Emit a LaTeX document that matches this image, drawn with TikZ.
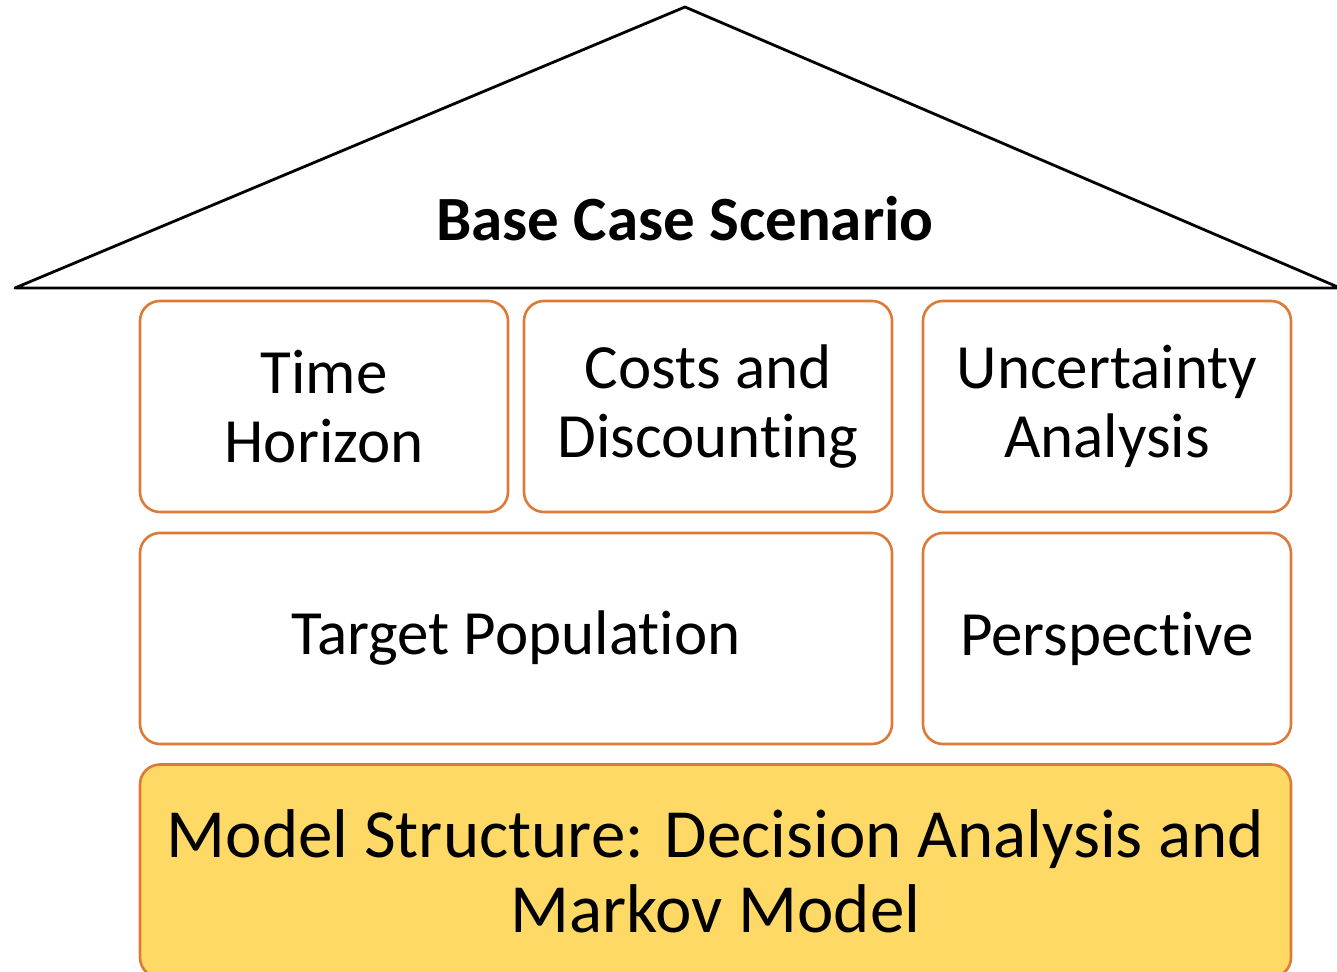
\documentclass[tikz,border=0pt]{standalone}
\usepackage{fontspec}
\setmainfont{Carlito}[RawFeature={-liga;-clig;-calt;-dlig}]
\definecolor{boxorange}{HTML}{DD7A35}
\definecolor{boxgold}{HTML}{FFD966}
\begin{document}
\begin{tikzpicture}[x=1pt,y=1pt,
  pillar/.style={draw=boxorange, line width=2.6pt, rounded corners=20pt, fill=white,
    align=center, inner sep=0pt, font=\fontsize{63}{69}\selectfont},
  basebox/.style={pillar, fill=boxgold, font=\fontsize{69}{75}\selectfont}]
\useasboundingbox (0,0) rectangle (1337,971);
\clip (0,0) rectangle (1337,971);
% roof
\coordinate (rl) at (15,683);
\coordinate (ra) at (685,964);
\coordinate (rr) at (1340,683);
\draw[line width=2.8pt, line join=round] (rl) -- (ra) -- (rr) -- cycle;
\node[font=\bfseries\fontsize{63}{69}\selectfont] (title) at (685,752) {Base Case Scenario};
% top row
\node[pillar, minimum width=368pt, minimum height=211pt] (th) at (324,564.5) {Time\\Horizon};
\node[pillar, minimum width=368pt, minimum height=211pt] (cd) at (708,564.5) {Costs and\\Discounting};
\node[pillar, minimum width=368pt, minimum height=211pt] (ua) at (1107,564.5) {Uncertainty\\Analysis};
% middle row
\node[pillar, minimum width=752pt, minimum height=211pt] (tp) at (516,332.5) {Target Population};
\node[pillar, minimum width=368pt, minimum height=211pt] (pe) at (1107,332.5) {Perspective};
% base
\node[basebox, minimum width=1151pt, minimum height=213pt] (ms) at (715.5,100) {Model Structure: Decision Analysis and\\Markov Model};
\end{tikzpicture}
\end{document}
